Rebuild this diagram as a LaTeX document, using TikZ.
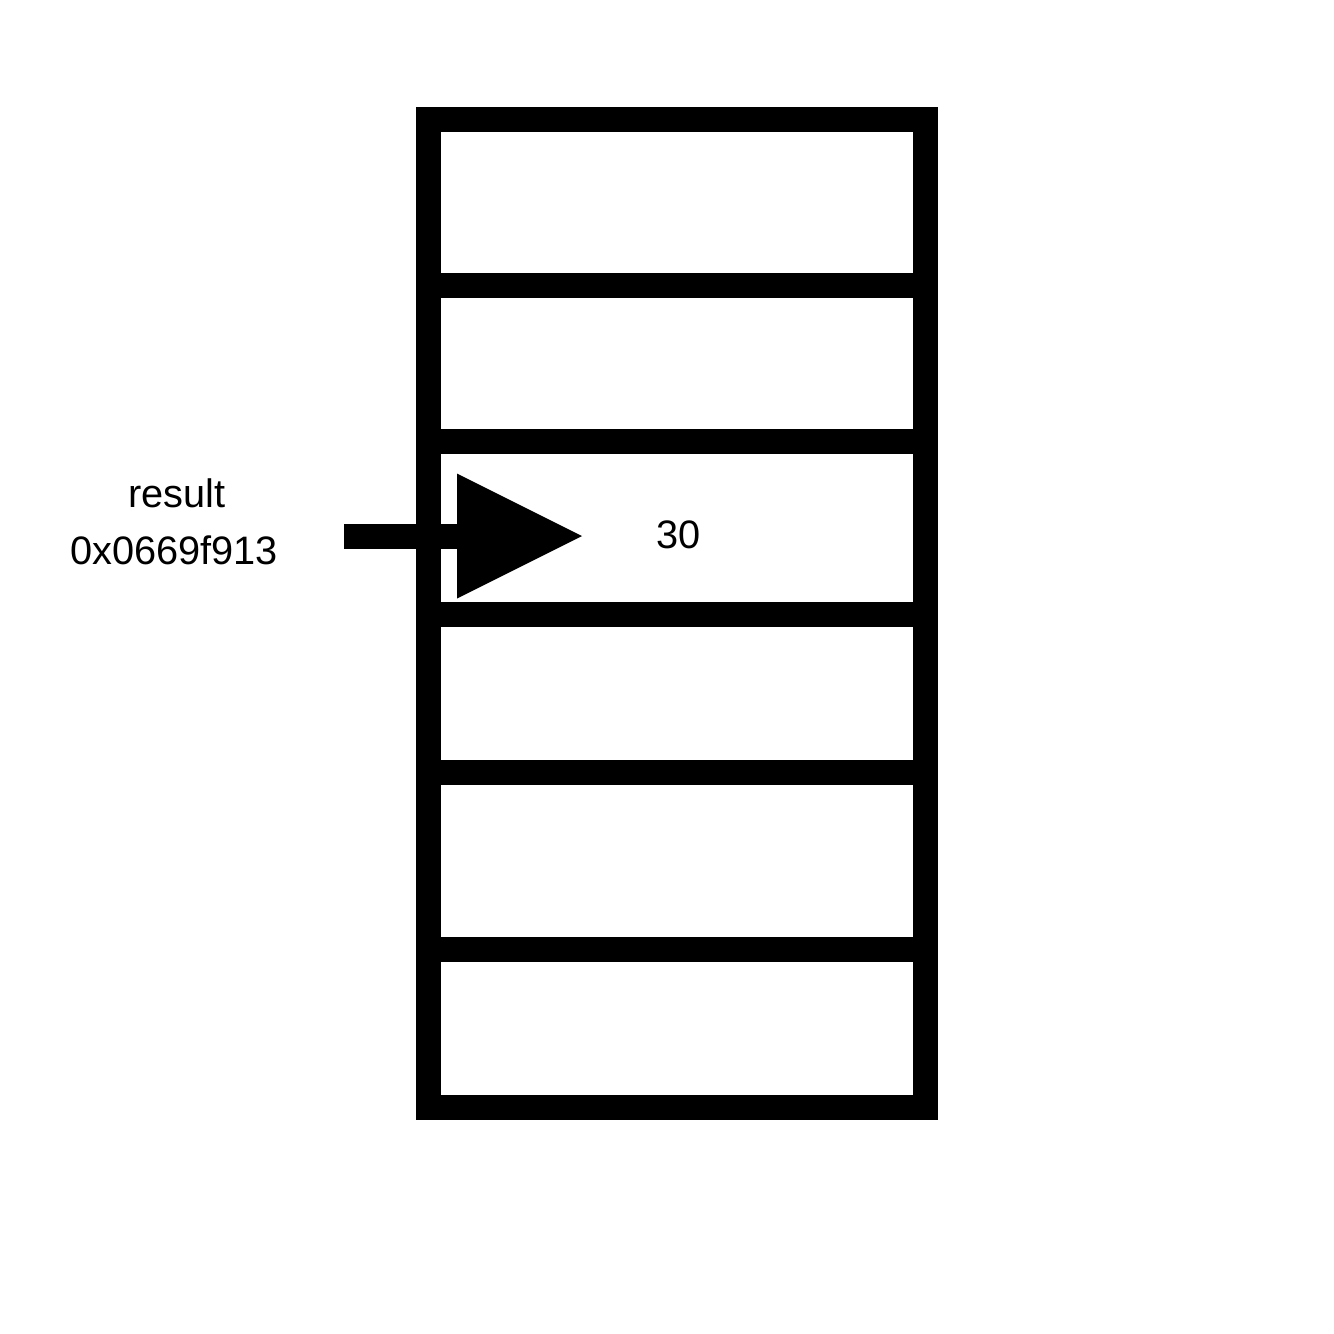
\documentclass[tikz,border=0pt]{standalone}
\usepackage{fontspec}
\setmainfont{Liberation Sans}
\usetikzlibrary{positioning,arrows.meta}

\begin{document}
\begin{tikzpicture}[cell/.style={draw,line width=0.25cm,minimum width=4.97cm,outer sep=0pt,inner sep=0pt},
txt/.style={font=\fontsize{11.3}{13}\selectfont}]
\useasboundingbox (0,0) rectangle (13.34,-13.34);
\node[cell,minimum height=1.655cm] (c1) at (6.77,-2.0275) {};
\node[cell,minimum height=1.555cm,below=0pt of c1] (c2) {};
\node[cell,minimum height=1.735cm,below=0pt of c2] (c3) {};
\node[cell,minimum height=1.575cm,below=0pt of c3] (c4) {};
\node[cell,minimum height=1.77cm,below=0pt of c4] (c5) {};
\node[cell,minimum height=1.585cm,below=0pt of c5] (c6) {};
\node[txt] (val) at ([xshift=0.015cm,yshift=-0.07cm]c3.center) {30};
\node[txt,anchor=base] (name) at (1.767,-5.07) {result};
\node[txt,anchor=base] (addr) at (1.74,-5.645) {0x0669f913};
\coordinate (ptr) at (3.44,-5.36);
\coordinate (tip) at (5.82,-5.36);
\draw[line width=0.25cm,-{Triangle[length=1.25cm,width=1.25cm,line width=0pt]}] (ptr) -- (tip);
\end{tikzpicture}
\end{document}
